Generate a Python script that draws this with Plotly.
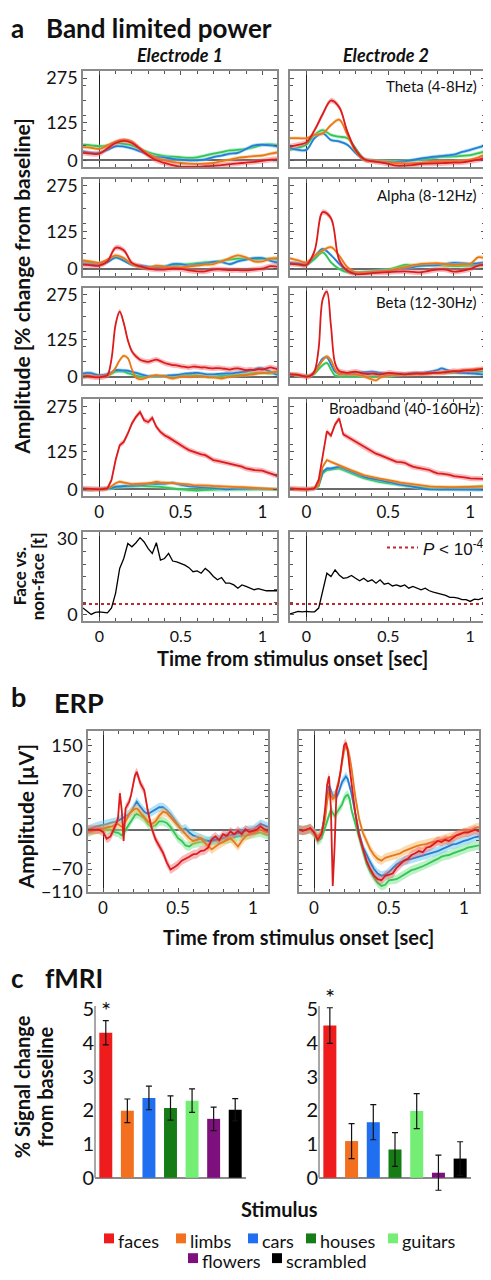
import plotly.graph_objects as go

# page body has an 8px default margin: the figure is sized/positioned to compensate
OX, OY = 8, 8
W, H = 483, 1272
FONT = "Lato"

# ---------------- time grids ----------------
T_COARSE = [round(-0.1 + 0.05 * i, 3) for i in range(25)]
T_FINE = [round(-0.1 + 0.025 * i, 4) for i in range(49)]
T_ERP = [-0.1, -0.075, -0.05, -0.025, 0.0, 0.025, 0.05,
         0.0625, 0.075, 0.0875, 0.1, 0.1125, 0.125, 0.1375, 0.15,
         0.1625, 0.175, 0.1875, 0.2, 0.2125, 0.225, 0.2375, 0.25,
         0.275, 0.3, 0.325, 0.35, 0.375, 0.4, 0.425, 0.45, 0.475, 0.5,
         0.525, 0.55, 0.575, 0.6, 0.625, 0.65, 0.675, 0.7, 0.725, 0.75,
         0.775, 0.8, 0.825, 0.85, 0.875, 0.9, 0.925, 0.95, 0.975, 1.0,
         1.025, 1.05, 1.075, 1.1]

# ---------------- band limited power (% change) ----------------
THETA_E1_RED = [25, 22, 22, 40, 58, 65, 58, 38, 16, 0, -9, -16, -22, -22, -22, -20, -19, -16, -13, -10, -8, -5, -2, 2, 3]
THETA_E1_ORANGE = [44, 42, 38, 50, 63, 69, 63, 40, 22, 8, 0, -5, -9, -11, -12, -11, -9, -3, 2, 8, 11, 14, 16, 22, 27]
THETA_E1_GREEN = [52, 50, 47, 50, 58, 55, 50, 38, 27, 19, 14, 12, 10, 8, 10, 16, 22, 27, 33, 35, 38, 44, 52, 53, 50]
THETA_E1_BLUE = [30, 25, 25, 35, 47, 46, 40, 30, 19, 11, 9, 5, 2, 0, 0, 3, 11, 16, 22, 25, 38, 50, 52, 50, 46]

THETA_E2_RED = [46, 52, 60, 101, 155, 200, 178, 96, 35, 4, -3, -7, -12, -18, -18, -16, -12, -11, -10, -9, -8, -7, -3, 2, 10]
THETA_E2_ORANGE = [74, 74, 74, 85, 90, 118, 136, 85, 30, 2, -3, -5, -7, -9, -10, -10, -9, -6, -3, -3, -3, -1, 2, 10, 21]
THETA_E2_GREEN = [35, 42, 52, 85, 101, 85, 79, 74, 41, 6, -1, -2, -3, -3, -3, 0, 2, 6, 10, 12, 13, 15, 17, 24, 32]
THETA_E2_BLUE = [41, 35, 35, 74, 90, 68, 63, 52, 24, 2, -3, -5, -6, -5, -3, 1, 6, 10, 13, 16, 19, 28, 35, 43, 52]

ALPHA_E1_RED = [14, 12, 11, 25, 70, 62, 20, 9, 1, -2, -2, 1, 0, -5, -8, -8, -2, -2, -4, -4, -5, -2, 1, 9, 7]
ALPHA_E1_ORANGE = [28, 24, 20, 31, 45, 36, 16, 7, 3, 11, 7, 5, 5, 8, 11, 14, 16, 25, 36, 45, 38, 25, 25, 34, 36]
ALPHA_E1_GREEN = [25, 22, 18, 25, 38, 31, 14, 9, 7, 8, 9, 11, 14, 16, 19, 22, 23, 27, 31, 34, 34, 32, 33, 34, 31]
ALPHA_E1_BLUE = [16, 15, 14, 22, 38, 27, 14, 11, 7, 3, 7, 16, 16, 11, 16, 18, 23, 23, 16, 25, 31, 36, 36, 27, 20]

ALPHA_E2_RED = [17, 15, 13, 60, 188, 168, 30, -6, -17, -17, -14, -12, -11, -9, -8, -10, -11, -6, -2, -2, -9, -6, 0, 11, 14]
ALPHA_E2_ORANGE = [35, 28, 22, 44, 61, 72, 44, 6, -11, -12, -11, -9, -6, 0, 6, 12, 17, 18, 19, 16, 13, 15, 17, 39, 33]
ALPHA_E2_GREEN = [17, 15, 13, 33, 55, 22, 0, -11, -11, -10, -8, -5, -2, 5, 13, 12, 11, 12, 13, 11, 9, 10, 11, 13, 14]
ALPHA_E2_BLUE = [20, 18, 17, 42, 66, 46, 17, -6, -13, -12, -11, -8, -6, -2, 2, 6, 11, 12, 13, 17, 20, 19, 17, 19, 22]

BETA_E1_RED = [0, 2, 0, -2, -2, 0, 5, 60, 175, 218, 180, 122, 85, 68, 57, 52, 50, 54, 57, 52, 46, 42, 39, 38, 35,
               33, 31, 34, 33, 31, 31, 29, 28, 29, 28, 26, 24, 27, 28, 25, 22, 24, 22, 25, 24, 28, 31, 28, 24]
BETA_E1_ORANGE = [0, 1, 0, 0, 0, 1, 4, 12, 30, 55, 70, 62, 25, -3, -8, -6, -1, 3, 5, 3, 2, -3, -6, -3, 0,
                  1, 0, 1, 2, 1, 0, -2, -2, -4, -6, -3, 0, 2, 3, 5, 5, 7, 8, 11, 12, 13, 14, 16, 17]
BETA_E1_GREEN = [5, 4, 3, 2, 2, 3, 5, 10, 17, 18, 17, 12, 8, 4, 1, 0, 0, 1, 2, 2, 2, 3, 3, 3, 3,
                 4, 5, 5, 5, 3, 1, 0, 0, 2, 4, 5, 5, 6, 7, 8, 8, 10, 12, 13, 13, 12, 11, 11, 11]
BETA_E1_BLUE = [11, 13, 12, 8, 5, 6, 9, 15, 22, 22, 21, 20, 16, 13, 9, 5, 2, 2, 3, 3, 3, 4, 5, 6, 8,
                10, 11, 12, 13, 11, 9, 8, 8, 9, 10, 11, 11, 12, 14, 16, 17, 20, 24, 28, 28, 22, 17, 10, 5]

BETA_E2_RED = [8, 7, 6, 3, 0, 3, 19, 96, 260, 285, 170, 45, 19, 15, 13, 15, 17, 14, 10, 9, 10, 9, 8, 10, 13,
               12, 10, 9, 8, 9, 10, 11, 10, 11, 12, 13, 13, 14, 15, 17, 19, 18, 20, 21, 21, 22, 24, 26, 28]
BETA_E2_ORANGE = [10, 8, 6, 3, 0, 4, 13, 35, 55, 68, 55, 25, 8, 10, 9, 8, 8, 5, 2, -4, -9, -12, -3, 2, 4,
                  6, 8, 8, 8, 8, 8, 9, 8, 9, 10, 13, 13, 14, 15, 17, 19, 20, 21, 22, 24, 25, 26, 27, 28]
BETA_E2_GREEN = [6, 5, 4, 3, 2, 4, 10, 25, 39, 46, 24, 4, 2, 2, 2, 2, 2, 2, 1, 0, 0, 1, 2, 2, 2,
                 3, 5, 7, 8, 9, 10, 10, 11, 12, 13, 13, 13, 13, 13, 13, 13, 13, 13, 14, 14, 15, 16, 17, 17]
BETA_E2_BLUE = [8, 7, 5, 3, 2, 5, 17, 40, 61, 65, 41, 17, 10, 10, 11, 13, 13, 14, 15, 16, 17, 15, 13, 11, 10,
                10, 10, 10, 10, 11, 12, 13, 13, 14, 16, 19, 22, 28, 24, 19, 16, 14, 13, 12, 11, 10, 9, 8, 8]

BROAD_E1_RED = [3, 2, 0, 1, 0, 1, 3, 31, 97, 146, 157, 185, 218, 240, 256, 229, 223, 237, 207, 190, 179, 172, 163, 155, 146,
                138, 130, 125, 119, 116, 113, 105, 97, 94, 91, 88, 86, 83, 80, 75, 69, 66, 64, 63, 62, 57, 53, 48, 42]
BROAD_E1_ORANGE = [0, 1, 0, -1, 0, 1, 3, 10, 20, 25, 22, 18, 17, 18, 18, 19, 20, 22, 25, 23, 22, 21, 20, 20, 20,
                   18, 16, 14, 14, 13, 12, 12, 11, 10, 9, 9, 8, 8, 7, 7, 6, 5, 4, 3, 3, 2, 1, 0, 0]
BROAD_E1_GREEN = [0, -1, 0, 1, 0, 0, 1, 3, 7, 8, 9, 10, 11, 11, 11, 11, 11, 10, 9, 8, 7, 5, 3, 1, 0,
                  -2, -4, -4, -4, -3, -2, -2, -2, -1, 0, 0, 0, -1, -2, -2, -1, 0, 0, 0, 0, 0, 0, 0, 0]
BROAD_E1_BLUE = [-2, -1, -2, 0, 0, 1, 2, 4, 9, 10, 11, 11, 11, 12, 13, 15, 18, 19, 20, 19, 18, 20, 22, 18, 14,
                 12, 10, 9, 9, 8, 7, 7, 6, 4, 2, 0, 0, 1, 2, 3, 3, 3, 3, 3, 3, 2, 1, 0, -2]

BROAD_E2_RED = [3, 2, 1, 0, 0, 1, 3, 31, 119, 192, 178, 215, 235, 182, 174, 166, 157, 150, 141, 132, 124, 118, 113, 108, 102,
                97, 91, 90, 88, 81, 75, 72, 69, 67, 64, 58, 53, 52, 51, 48, 44, 43, 42, 39, 36, 35, 34, 34, 34]
BROAD_E2_ORANGE = [0, 1, 0, 0, 0, 1, 3, 14, 75, 97, 91, 85, 80, 75, 69, 63, 58, 52, 47, 44, 42, 38, 35, 33, 31,
                   28, 25, 22, 20, 19, 18, 15, 13, 11, 10, 9, 8, 8, 7, 7, 7, 7, 7, 7, 7, 8, 8, 9, 9]
BROAD_E2_GREEN = [0, 0, 1, 0, 0, 1, 2, 10, 53, 64, 66, 68, 69, 64, 58, 52, 47, 42, 37, 33, 30, 27, 24, 22, 20,
                  17, 15, 13, 11, 10, 9, 8, 6, 4, 3, 3, 3, 3, 3, 4, 5, 5, 6, 7, 8, 9, 10, 11, 11]
BROAD_E2_BLUE = [0, 1, 0, 0, 0, 1, 3, 14, 58, 69, 69, 72, 75, 70, 64, 58, 53, 47, 42, 38, 36, 33, 30, 27, 25,
                 22, 18, 15, 13, 11, 9, 6, 3, 1, 0, -1, -2, -1, 0, 0, 0, 0, -1, 0, 0, -1, -1, -2, -2]

SEM_RED, SEM_OTHER = 9, 6

# ---------------- face vs non-face t statistic ----------------
TSTAT_E1 = [2.7, 1.4, 0.2, 1.0, 1.2, 1.0, 0.8, 2.7, 8.6, 18.3, 22.2, 28.1, 26.8, 28.4, 30.4, 28.7, 26.1, 24.2, 28.4, 21.6,
            22.2, 24.2, 21.2, 20.9, 20.3, 19.6, 18.6, 17.0, 17.3, 16.4, 18.3, 17.0, 15.1, 13.8, 14.7, 12.5, 12.5, 11.8,
            10.5, 11.8, 11.2, 10.5, 9.9, 10.3, 9.9, 9.5, 9.5, 9.5, 9.5]
TSTAT_E2 = [0.4, 0.8, 1.4, 1.2, 1.4, 1.2, 1.2, 2.7, 9.9, 16.4, 15.1, 17.7, 15.7, 14.4, 14.7, 15.5, 14.4, 13.4, 14.4, 13.1,
            13.8, 12.5, 13.8, 12.1, 12.5, 11.4, 11.8, 11.2, 11.8, 10.5, 11.2, 10.5, 9.9, 10.5, 9.5, 9.0, 8.6, 7.9,
            7.7, 6.9, 6.9, 6.6, 6.0, 6.0, 5.3, 6.2, 6.0, 6.6, 6.0]
P_THRESHOLD_T = 4.3

# ---------------- ERP (microvolts) ----------------
ERP_E1_RED = [0, 0, 1, 0, -4, -16, -12,
              -5, 3, 10, 20, 65, 35, -20, 38, 44, 50, 62, 80, 96, 103, 92, 82,
              70, 32, 2, -17, -29, -41, -58, -71, -67, -62, -55, -52, -48, -44, -43, -38, -37, -32,
              -17, -12, -19, -8, -11, -3, -8, -2, -8, 1, -4, -2, 0, 6, 1, -2]
ERP_E1_ORANGE = [-3, -2, 0, 1, 2, 4, 5,
                 6, 8, 10, 10, 8, 5, 8, 15, 22, 28, 32, 35, 37, 38, 35, 30,
                 22, 15, 10, 15, 25, 32, 30, 22, 15, 8, 0, -8, -15, -20, -18, -15, -22, -28,
                 -35, -30, -25, -22, -18, -15, -22, -30, -20, -12, -8, -5, -2, 0, -3, -5]
ERP_E1_BLUE = [0, 3, 5, 7, 8, 10, 12,
               13, 14, 15, 15, 18, 20, 22, 25, 27, 28, 32, 38, 45, 50, 45, 40,
               32, 28, 32, 36, 40, 40, 35, 28, 18, 8, 0, 2, -5, -10, -12, -15, -18, -20,
               -19, -18, -16, -15, -12, -10, -7, -5, -3, -2, 0, 0, 5, 10, 8, 5]
ERP_E1_GREEN = [-5, -3, 0, 2, 2, 1, 0,
                -2, -4, -5, -5, -8, -10, -6, 0, 5, 10, 15, 22, 26, 28, 27, 25,
                20, 10, 5, 8, 15, 15, 12, 5, -5, -15, -20, -28, -30, -25, -23, -22, -21, -20,
                -20, -20, -19, -18, -17, -15, -13, -12, -11, -10, -9, -8, -6, -5, -8, -10]

ERP_E2_RED = [0, -2, 0, 3, -5, -18, -8,
              10, 40, 80, 95, 40, -100, -30, 70, 80, 100, 130, 150, 155, 140, 110, 80,
              30, -10, -35, -55, -70, -82, -88, -90, -82, -80, -78, -68, -62, -55, -52, -45, -42, -38,
              -40, -32, -30, -25, -20, -22, -18, -20, -15, -10, -8, -5, -5, -3, 0, -3]
ERP_E2_ORANGE = [0, -1, 0, 2, -5, -12, -5,
                 5, 20, 50, 68, 62, 55, 58, 70, 85, 100, 120, 140, 150, 145, 130, 110,
                 60, 20, -5, -20, -35, -45, -52, -55, -50, -48, -46, -45, -42, -38, -35, -32, -30, -28,
                 -27, -25, -23, -22, -20, -18, -16, -15, -12, -10, -7, -5, -2, 0, 3, 5]
ERP_E2_BLUE = [0, -1, 0, 2, -3, -12, -5,
               10, 30, 60, 78, 70, 60, 62, 58, 65, 75, 85, 90, 95, 90, 78, 65,
               30, -5, -30, -45, -58, -70, -78, -82, -80, -75, -68, -62, -58, -55, -53, -52, -50, -48,
               -46, -45, -42, -40, -38, -35, -32, -28, -26, -25, -22, -20, -18, -15, -13, -12]
ERP_E2_GREEN = [0, -2, 0, 1, -8, -20, -15,
                -5, 5, 15, 25, 35, 30, 25, 30, 35, 40, 45, 55, 60, 62, 55, 35,
                10, -15, -40, -60, -75, -85, -95, -100, -98, -90, -89, -88, -84, -80, -76, -72, -70, -68,
                -65, -62, -58, -55, -52, -48, -46, -45, -42, -40, -38, -35, -32, -30, -29, -28]
SEM_ERP = 8

# ---------------- fMRI ----------------
CATEGORIES = ["faces", "limbs", "cars", "houses", "guitars", "flowers", "scrambled"]
BAR_COLORS = ["#ee1c1c", "#f2701f", "#1f6ff0", "#167d16", "#74ee74", "#7d107d", "#000000"]
FMRI_E1 = [4.31, 1.99, 2.37, 2.07, 2.29, 1.75, 2.02]
FMRI_E1_ERR = [0.36, 0.35, 0.35, 0.36, 0.35, 0.35, 0.33]
FMRI_E2 = [4.52, 1.09, 1.65, 0.84, 1.98, 0.15, 0.57]
FMRI_E2_ERR = [0.53, 0.52, 0.52, 0.50, 0.52, 0.52, 0.50]

# ---------------- styling ----------------
LINE_COLORS = {"red": "#dc1c1c", "orange": "#e8781c", "blue": "#2a7dd2", "green": "#35c457"}
FILL_COLORS = {"red": "rgba(240,90,100,0.42)", "orange": "rgba(250,175,80,0.45)",
               "blue": "rgba(100,200,240,0.50)", "green": "rgba(120,230,140,0.50)"}
FRAME = "#8a8a8a"
TICK = "#555555"
TXT = "#111111"

fig = go.Figure()
axis_defs = []


def fx(px):
    return (px - OX) / W


def fy(py):
    return 1 - (py - OY) / H


def add_subplot(xpx, ypx, xkw, ykw):
    i = len(axis_defs) + 1
    sfx = "" if i == 1 else str(i)
    xd = dict(domain=[fx(xpx[0]), fx(xpx[1])], anchor="y" + sfx, **xkw)
    yd = dict(domain=[fy(ypx[1]), fy(ypx[0])], anchor="x" + sfx, **ykw)
    axis_defs.append(("xaxis" + sfx, xd, "yaxis" + sfx, yd))
    return "x" + sfx, "y" + sfx


def time_xaxis(labels, rng=(-0.1, 1.09), size=17):
    return dict(range=list(rng), showgrid=False, showline=True, linecolor=FRAME, linewidth=1.5,
                mirror="allticks", ticks="inside", ticklen=4, tickwidth=1, tickcolor=TICK,
                tickmode="linear", tick0=0, dtick=0.5, showticklabels=labels,
                tickfont=dict(family=FONT, size=size, color=TXT),
                minor=dict(ticks="inside", ticklen=3, tickcolor=TICK, tickmode="linear", tick0=0, dtick=0.1,
                           showgrid=False),
                zeroline=True, zerolinecolor="#222222", zerolinewidth=1.2)


def value_yaxis(labels, rng, tickvals, minor_dtick, zeroline=True):
    return dict(range=list(rng), showgrid=False, showline=True, linecolor=FRAME, linewidth=1.5,
                mirror="allticks", ticks="inside", ticklen=4, tickwidth=1, tickcolor=TICK,
                tickmode="array", tickvals=tickvals, showticklabels=labels,
                tickfont=dict(family=FONT, size=18, color=TXT),
                minor=dict(ticks="inside", ticklen=3, tickcolor=TICK, tickmode="linear", tick0=0,
                           dtick=minor_dtick, showgrid=False),
                zeroline=zeroline, zerolinecolor="#6a6a6a", zerolinewidth=1.5)


def add_series(xr, yr, t, y, color, sem, shape):
    upper = [v + sem for v in y]
    lower = [v - sem for v in y]
    fig.add_trace(go.Scatter(x=list(t) + list(t)[::-1], y=upper + lower[::-1], fill="toself",
                             fillcolor=FILL_COLORS[color], line=dict(width=0, shape=shape),
                             mode="lines", hoverinfo="skip", showlegend=False, xaxis=xr, yaxis=yr))
    fig.add_trace(go.Scatter(x=t, y=y, mode="lines", line=dict(color=LINE_COLORS[color], width=1.8, shape=shape),
                             showlegend=False, xaxis=xr, yaxis=yr))


# ---------------- panel a: band limited power ----------------
AMP_RANGE = (-23, 298)
COLS = [(83, 277), (290, 485)]
ROWS = [(67, 164), (176, 274), (286, 383), (399, 497)]
band_panels = [
    (T_COARSE, "spline", [(THETA_E1_GREEN, THETA_E1_BLUE, THETA_E1_ORANGE, THETA_E1_RED),
                          (THETA_E2_GREEN, THETA_E2_BLUE, THETA_E2_ORANGE, THETA_E2_RED)]),
    (T_COARSE, "spline", [(ALPHA_E1_GREEN, ALPHA_E1_BLUE, ALPHA_E1_ORANGE, ALPHA_E1_RED),
                          (ALPHA_E2_GREEN, ALPHA_E2_BLUE, ALPHA_E2_ORANGE, ALPHA_E2_RED)]),
    (T_FINE, "spline", [(BETA_E1_GREEN, BETA_E1_BLUE, BETA_E1_ORANGE, BETA_E1_RED),
                        (BETA_E2_GREEN, BETA_E2_BLUE, BETA_E2_ORANGE, BETA_E2_RED)]),
    (T_FINE, "linear", [(BROAD_E1_GREEN, BROAD_E1_BLUE, BROAD_E1_ORANGE, BROAD_E1_RED),
                        (BROAD_E2_GREEN, BROAD_E2_BLUE, BROAD_E2_ORANGE, BROAD_E2_RED)]),
]
for r, (t, shape, per_col) in enumerate(band_panels):
    for c, series in enumerate(per_col):
        xr, yr = add_subplot(COLS[c], ROWS[r], time_xaxis(r == 3),
                             value_yaxis(c == 0, AMP_RANGE, [0, 125, 275], 50))
        for y, color in zip(series, ["green", "blue", "orange", "red"]):
            add_series(xr, yr, t, y, color, SEM_RED if color == "red" else SEM_OTHER, shape)

# ---------------- face vs non-face ----------------
for c, ts in enumerate([TSTAT_E1, TSTAT_E2]):
    xr, yr = add_subplot(COLS[c], (533, 623), time_xaxis(True, size=16),
                         value_yaxis(c == 0, (-2.3, 32.7), [0, 30], 5, zeroline=False))
    fig.add_trace(go.Scatter(x=[T_FINE[0], T_FINE[-1]], y=[P_THRESHOLD_T, P_THRESHOLD_T], mode="lines",
                             line=dict(color="#c0282d", width=2, dash="dot"), showlegend=False,
                             xaxis=xr, yaxis=yr))
    fig.add_trace(go.Scatter(x=T_FINE, y=ts, mode="lines", line=dict(color="#000000", width=1.3),
                             showlegend=False, xaxis=xr, yaxis=yr))

# ---------------- panel b: ERP ----------------
ERP_COLS = [(88, 268), (299, 479)]
for c, series in enumerate([(ERP_E1_GREEN, ERP_E1_BLUE, ERP_E1_ORANGE, ERP_E1_RED),
                            (ERP_E2_GREEN, ERP_E2_BLUE, ERP_E2_ORANGE, ERP_E2_RED)]):
    xr, yr = add_subplot(ERP_COLS[c], (735, 897), time_xaxis(True, (-0.1, 1.1)),
                         value_yaxis(c == 0, (-110, 175), [-110, -70, 0, 70, 150], 20))
    for y, color in zip(series, ["green", "blue", "orange", "red"]):
        add_series(xr, yr, T_ERP, y, color, SEM_ERP, "linear")

# ---------------- panel c: fMRI ----------------
BAR_COLS = [(95, 246), (319, 471)]
BAR_RANGE = (-0.45, 5.45)
AXIS_TOP = 5.1
for c, (vals, errs) in enumerate([(FMRI_E1, FMRI_E1_ERR), (FMRI_E2, FMRI_E2_ERR)]):
    xr, yr = add_subplot(BAR_COLS[c], (1001, 1202),
                         dict(range=[-0.5, 6.5], showticklabels=False, showgrid=False, showline=False,
                              zeroline=False, ticks=""),
                         dict(range=list(BAR_RANGE), tickmode="array", tickvals=[0, 1, 2, 3, 4, 5],
                              showgrid=False, showline=False, ticks="", zeroline=True,
                              zerolinecolor=FRAME, zerolinewidth=1.5,
                              tickfont=dict(family=FONT, size=20, color=TXT)))
    fig.add_trace(go.Bar(x=CATEGORIES, y=vals, marker=dict(color=BAR_COLORS, line=dict(width=0)), width=0.6,
                         error_y=dict(type="data", array=errs, color="#111111", thickness=1.2, width=3),
                         showlegend=False, xaxis=xr, yaxis=yr))
    fig.add_shape(type="line", xref=xr + " domain", yref=yr, x0=0, x1=0, y0=0, y1=AXIS_TOP,
                  line=dict(color=FRAME, width=1.5))
    fig.add_annotation(x=CATEGORIES[0], y=vals[0] + errs[0] + 0.33, xref=xr, yref=yr, text="*",
                       showarrow=False, font=dict(family=FONT, size=24, color=TXT), yanchor="middle")

layout = dict(width=W, height=H, autosize=False, margin=dict(l=0, r=0, t=0, b=0),
              paper_bgcolor="white", plot_bgcolor="white", showlegend=False,
              font=dict(family=FONT, color=TXT))
for xa, xd, ya, yd in axis_defs:
    layout[xa] = xd
    layout[ya] = yd
fig.update_layout(**layout)


def ann(text, x, y, size, xanchor="center", yanchor="middle", angle=0, family=FONT):
    fig.add_annotation(text=text, x=fx(x), y=fy(y), xref="paper", yref="paper", showarrow=False,
                       xanchor=xanchor, yanchor=yanchor, textangle=angle,
                       font=dict(family=family, size=size, color=TXT))


# titles
ann("<b>a</b>", 9, 23, 26, xanchor="left")
ann("<b>Band limited power</b>", 44, 23, 26, xanchor="left")
ann("<b><i>Electrode 1</i></b>", 180, 50, 18)
ann("<b><i>Electrode 2</i></b>", 386, 50, 18)
ann("Theta (4-8Hz)", 479, 82, 15, xanchor="right")
ann("Alpha (8-12Hz)", 479, 192, 15, xanchor="right")
ann("Beta (12-30Hz)", 479, 300, 15, xanchor="right")
ann("Broadband (40-160Hz)", 482, 408, 15, xanchor="right")
ann("<b>Amplitude [% change from baseline]</b>", 22, 285, 21, angle=-90)
ann("<b>Face vs.</b>", 19, 578, 17, angle=-90)
ann("<b>non-face [t]</b>", 37, 578, 17, angle=-90)
ann("<b>Time from stimulus onset [sec]</b>", 292, 661, 20)
fig.add_shape(type="line", xref="paper", yref="paper", x0=fx(387), x1=fx(418), y0=fy(549), y1=fy(549),
              line=dict(color="#c0282d", width=2, dash="dot"))
ann("<i>P</i> &lt; 10<sup>-4</sup>", 421, 549, 17, xanchor="left", family="Liberation Sans")

ann("<b>b</b>", 9, 700, 27, xanchor="left")
ann("<b>ERP</b>", 52, 706, 27, xanchor="left")
ann("<b>Amplitude [µV]</b>", 25, 822, 21, angle=-90)
ann("<b>Time from stimulus onset [sec]</b>", 298, 943, 20)

ann("<b>c</b>", 9, 985, 26, xanchor="left")
ann("<b>fMRI</b>", 43, 985, 26, xanchor="left")
ann("<b>% Signal change</b>", 22, 1095, 20, angle=-90)
ann("<b>from baseline</b>", 45, 1095, 20, angle=-90)
ann("<b>Stimulus</b>", 279, 1218, 20)

# legend (squares + labels)
LEGEND_POS = [(104, 1251), (176, 1251), (248, 1251), (306, 1251), (388, 1251), (188, 1271), (272, 1271)]
for name, color, (lx, ly) in zip(CATEGORIES, BAR_COLORS, LEGEND_POS):
    fig.add_shape(type="rect", xref="paper", yref="paper", x0=fx(lx), x1=fx(lx + 10),
                  y0=fy(ly + 2), y1=fy(ly - 8), fillcolor=color, line=dict(width=0))
    ann(name, lx + 12, ly, 18, xanchor="left")

fig.write_html("out.html")
